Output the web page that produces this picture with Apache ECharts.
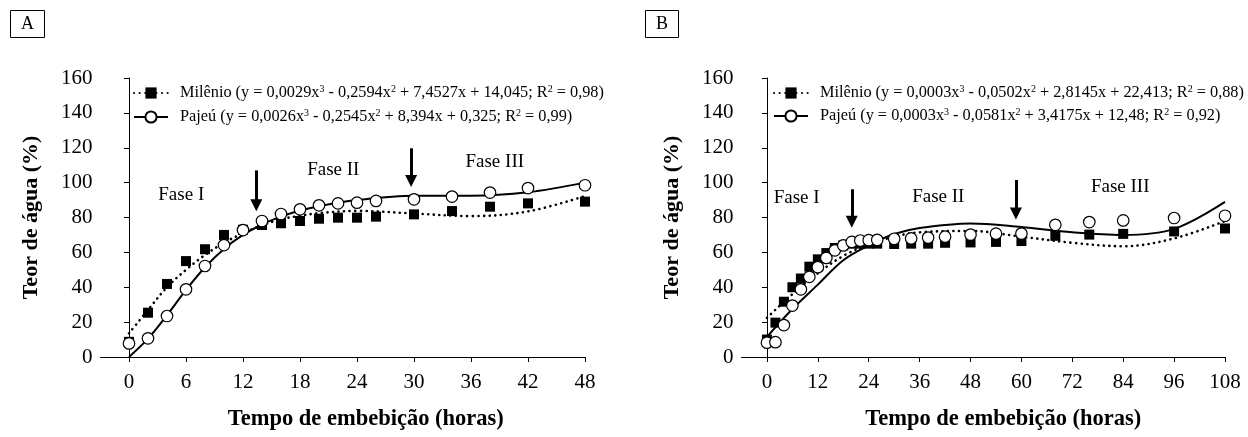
<!DOCTYPE html>
<html><head><meta charset="utf-8">
<script src="https://cdn.jsdelivr.net/npm/echarts@6/dist/echarts.min.js"></script>
<style>html,body{margin:0;padding:0;background:#fff}#c{width:1248px;height:437px}</style>
</head><body><div id="c"></div>
<script>
// ---- Panel A data ----
const hoursA = [0,2,4,6,8,10,12,14,16,18,20,22,24,26,30,34,38,42,48];
const milenioA = [8.7,25.4,41.9,55,61.8,70,73,75.7,76.7,78,79.3,79.9,79.9,80.5,81.8,83.7,86.2,88.1,89.1];
const pajeuA = [7.8,10.7,23.5,38.8,52.2,64.2,72.8,78,82,84.7,87,88.1,88.5,89.5,90.4,92,94.3,96.9,98.5];
const trendHoursA = [0,2,4,6,8,10,12,14,16,18,20,24,30,36,42,48];
const milenioTrendA = [13.6,27,40,50,58.5,65.5,71,75.5,79,81,82.5,83.8,82.3,80.8,83.5,92.3];
const pajeuTrendA = [0,10.5,24,38.5,51.5,62,70,76,80.5,84,86.5,90,92.5,92.5,94.5,100];
const xTicksA = [0,6,12,18,24,30,36,42,48];

// ---- Panel B data ----
const hoursB = [0,2,4,6,8,10,12,14,16,18,20,22,24,26,30,34,38,42,48,54,60,68,76,84,96,108];
const milenioB = [10,19.7,31.7,40,45,51.8,56,59.6,62.5,64,65,65,65,65,64.8,65,65,65.5,65.7,66,66.5,69.5,70.2,70.6,72,73.7];
const pajeuB = [8.2,8.5,18.3,29.5,38.8,46,51.5,56.8,61.2,64,66,66.8,67,67.2,67.8,68,68.5,69,70.2,70.7,70.8,75.8,77.4,78.3,79.7,81];
const trendHoursB = [0,6,12,18,24,30,36,48,60,72,84,96,108];
const milenioTrendB = [22.5,36,48,58,64.5,69,71.5,72.3,69,65.5,63.5,68,78];
const pajeuTrendB = [11.5,27.5,41.5,55.5,64,70.5,74,76.6,74.5,71.5,70,73.5,89];
const xTicksB = [0,12,24,36,48,60,72,84,96,108];

const legendLabels = {
  'MilA': 'Milênio (y = 0,0029x{s|3} - 0,2594x{s|2} + 7,4527x + 14,045; R{s|2} = 0,98)',
  'PajA': 'Pajeú (y = 0,0026x{s|3} - 0,2545x{s|2} + 8,394x + 0,325; R{s|2} = 0,99)',
  'MilB': 'Milênio (y = 0,0003x{s|3} - 0,0502x{s|2} + 2,8145x + 22,413; R{s|2} = 0,88)',
  'PajB': 'Pajeú (y = 0,0003x{s|3} - 0,0581x{s|2} + 3,4175x + 12,48; R{s|2} = 0,92)'
};

const FONT = '"Liberation Serif","Times New Roman",serif';
const zip = (xs, ys) => xs.map((x, i) => [x, ys[i]]);

function xAxis(idx, min, max, ticks, shift) {
  return {
    gridIndex: idx, type: 'value', min: min, max: max,
    axisLine: {show: true, onZero: false, lineStyle: {color: '#000', width: 1}},
    axisTick: {show: true, customValues: ticks, length: 5, lineStyle: {color: '#000'}},
    axisLabel: {customValues: ticks, color: '#000', fontSize: 21, fontFamily: FONT, margin: 15},
    splitLine: {show: false},
    name: 'Tempo de embebição (horas)', nameLocation: 'middle', nameGap: 51,
    nameTextStyle: {color: '#000', fontSize: 22.5, fontWeight: 'bold', fontFamily: FONT, padding: [0, 0, 0, shift]}
  };
}
function yAxis(idx) {
  return {
    gridIndex: idx, type: 'value', min: 0, max: 160, interval: 20,
    axisLine: {show: true, lineStyle: {color: '#000', width: 1}},
    axisTick: {show: true, length: 5, lineStyle: {color: '#000'}},
    axisLabel: {color: '#000', fontSize: 21, fontFamily: FONT, margin: 8},
    splitLine: {show: false},
    name: 'Teor de água (%)', nameLocation: 'middle', nameGap: 58,
    nameTextStyle: {color: '#000', fontSize: 22, fontWeight: 'bold', fontFamily: FONT}
  };
}
const dotted = {color: '#000', width: 2.6, type: [0.1, 5.5], cap: 'round'};
const solid = {color: '#000', width: 2};

function panelSeries(idx, suf, hours, mil, paj, th, milT, pajT, arrows, phases) {
  return [
    {name: 'Mil' + suf, type: 'line', xAxisIndex: idx, yAxisIndex: idx, data: zip(th, milT),
     smooth: 0.35, symbol: 'rect', showSymbol: false, lineStyle: dotted,
     itemStyle: {color: '#000', opacity: 1}, z: 2},
    {name: 'Paj' + suf, type: 'line', xAxisIndex: idx, yAxisIndex: idx, data: zip(th, pajT),
     smooth: 0.35, symbol: 'circle', showSymbol: false, lineStyle: solid,
     itemStyle: {color: '#fff', borderColor: '#000', borderWidth: 1.2, opacity: 1}, z: 2},
    {name: 'mpts' + suf, type: 'scatter', xAxisIndex: idx, yAxisIndex: idx, data: zip(hours, mil),
     symbol: 'rect', symbolSize: 10, itemStyle: {color: '#000', opacity: 1}, z: 3},
    {name: 'ppts' + suf, type: 'scatter', xAxisIndex: idx, yAxisIndex: idx, data: zip(hours, paj),
     symbol: 'circle', symbolSize: 11.5, itemStyle: {color: '#fff', borderColor: '#000', borderWidth: 1.2, opacity: 1}, z: 4,
     markLine: {silent: true, symbol: ['none', 'triangle'], symbolSize: [12, 12], animation: false,
       lineStyle: {color: '#000', width: 3, type: 'solid', opacity: 1}, label: {show: false},
       emphasis: {disabled: true},
       data: arrows.map(a => [{coord: [a[0], a[1]]}, {coord: [a[0], a[2]]}])},
     markPoint: {silent: true, symbol: 'rect', symbolSize: 1, itemStyle: {color: 'rgba(0,0,0,0)'},
       label: {show: true, position: 'inside', formatter: '{b}', color: '#000', fontSize: 19, fontFamily: FONT},
       data: phases.map(p => ({name: p[0], coord: [p[1], p[2]]}))}
    }
  ];
}

const legendText = {
  color: '#000', fontSize: 16.3, fontFamily: FONT, lineHeight: 18, padding: [0, 0, 0, 7],
  rich: {s: {fontSize: 10, fontFamily: FONT, verticalAlign: 'top', lineHeight: 8, color: '#000'}}
};

const option = {
  animation: false,
  backgroundColor: '#fff',
  grid: [
    {left: 100.5, top: 78, width: 484.5, height: 279},
    {left: 741.5, top: 78, width: 483.5, height: 279}
  ],
  xAxis: [xAxis(0, -3, 48, xTicksA, 46), xAxis(1, -6, 108, xTicksB, 40)],
  yAxis: [yAxis(0), yAxis(1)],
  legend: [
    {data: ['MilA', 'PajA'], orient: 'vertical', left: 128, top: 79, itemWidth: 34, itemHeight: 14, itemGap: 6,
     formatter: n => legendLabels[n], textStyle: legendText, selectedMode: false},
    {data: ['MilB', 'PajB'], orient: 'vertical', left: 768, top: 79, itemWidth: 34, itemHeight: 14, itemGap: 5,
     formatter: n => legendLabels[n], textStyle: legendText, selectedMode: false}
  ],
  graphic: [
    {type: 'rect', shape: {x: 10.5, y: 10.5, width: 34, height: 27}, style: {fill: '#fff', stroke: '#000', lineWidth: 1}},
    {type: 'text', x: 27.5, y: 24.5, style: {text: 'A', fontSize: 18, fontFamily: FONT, fill: '#000', align: 'center', verticalAlign: 'middle'}},
    {type: 'rect', shape: {x: 645.5, y: 10.5, width: 33, height: 27}, style: {fill: '#fff', stroke: '#000', lineWidth: 1}},
    {type: 'text', x: 662, y: 24.5, style: {text: 'B', fontSize: 18, fontFamily: FONT, fill: '#000', align: 'center', verticalAlign: 'middle'}}
  ],
  series: [
    ...panelSeries(0, 'A', hoursA, milenioA, pajeuA, trendHoursA, milenioTrendA, pajeuTrendA,
      [[13.4, 107, 87], [29.7, 119.7, 101]],
      [['Fase I', 5.5, 93], ['Fase II', 21.5, 107.2], ['Fase III', 38.5, 112]]),
    ...panelSeries(1, 'B', hoursB, milenioB, pajeuB, trendHoursB, milenioTrendB, pajeuTrendB,
      [[20, 96.2, 77.5], [58.7, 101.5, 82.3]],
      [['Fase I', 7, 91], ['Fase II', 40.4, 92], ['Fase III', 83.3, 97.3]])
  ]
};
echarts.init(document.getElementById('c')).setOption(option);
</script></body></html>
